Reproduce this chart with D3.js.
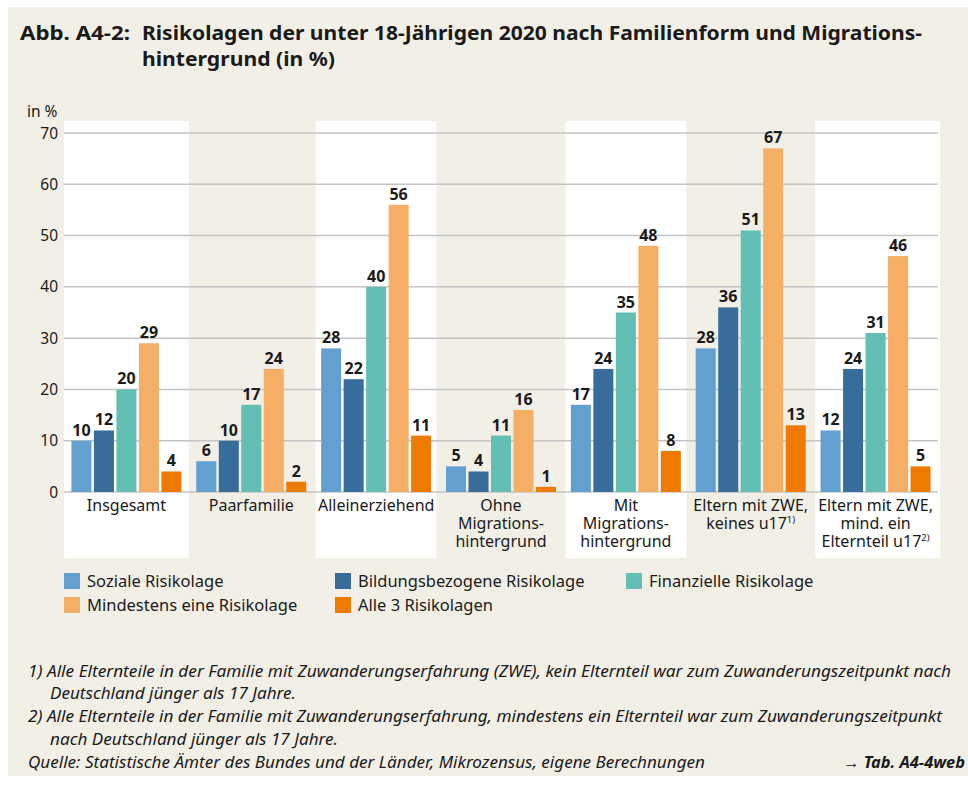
<!DOCTYPE html>
<html>
<head>
<meta charset="utf-8">
<script src="https://cdn.jsdelivr.net/npm/d3@7"></script>
<style>
  body { margin: 0; background: #fff; }
  svg { display: block; }
  text { font-family: "Noto Sans", "Open Sans", sans-serif; fill: #1a1a1a; }
</style>
</head>
<body>
<div id="chart"></div>
<script>
// Daten
const categories = [
    ['Insgesamt'],
    ['Paarfamilie'],
    ['Alleinerziehend'],
    ['Ohne', 'Migrations-', 'hintergrund'],
    ['Mit', 'Migrations-', 'hintergrund'],
    ['Eltern mit ZWE,', 'keines u17|1)'],
    ['Eltern mit ZWE,', 'mind. ein', 'Elternteil u17|2)']
];
const seriesNames = ['Soziale Risikolage', 'Bildungsbezogene Risikolage', 'Finanzielle Risikolage',
    'Mindestens eine Risikolage', 'Alle 3 Risikolagen'];
const seriesColors = ['#62a0cf', '#386c9b', '#63bfb4', '#f4ae66', '#ee7a02'];
const soziale      = [10, 6, 28, 5, 17, 28, 12];
const bildung      = [12, 10, 22, 4, 24, 36, 24];
const finanziell   = [20, 17, 40, 11, 35, 51, 31];
const mindestens   = [29, 24, 56, 16, 48, 67, 46];
const alleDrei     = [4, 2, 11, 1, 8, 13, 5];
const yTicks = [0, 10, 20, 30, 40, 50, 60, 70];

const values = [soziale, bildung, finanziell, mindestens, alleDrei];

const width = 968;
const height = 785;

const svg = d3.select('#chart')
    .append('svg')
    .attr('width', width)
    .attr('height', height);

// Hintergrund
svg.append('rect')
    .attr('x', 8).attr('y', 7)
    .attr('width', width - 8).attr('height', 769)
    .attr('fill', '#f2efe7');

// Titel
const title = svg.append('g').style('font-weight', 'bold').style('font-size', '20px');
title.append('text').attr('x', 20).attr('y', 39.5).attr('textLength', 110).attr('lengthAdjust', 'spacingAndGlyphs').text('Abb. A4-2:');
title.append('text').attr('x', 142).attr('y', 39.5).attr('textLength', 780).attr('lengthAdjust', 'spacingAndGlyphs')
    .text('Risikolagen der unter 18-Jährigen 2020 nach Familienform und Migrations-');
title.append('text').attr('x', 142).attr('y', 66).attr('textLength', 193).attr('lengthAdjust', 'spacingAndGlyphs')
    .text('hintergrund (in %)');

// Skalen
const x = d3.scaleBand()
    .domain(d3.range(categories.length))
    .range([64, 938]);

const xInner = d3.scaleBand()
    .domain(d3.range(seriesNames.length))
    .range([0, 110])
    .paddingInner(0.11);

const y = d3.scaleLinear()
    .domain([0, 70])
    .range([492, 133]);

// weiße Spalten
svg.append('g')
    .selectAll('rect')
    .data(d3.range(categories.length).filter(i => i % 2 === 0))
    .enter()
    .append('rect')
    .attr('x', i => x(i) + (i === 0 ? 0 : 2))
    .attr('width', i => x.bandwidth() - (i === 0 || i === categories.length - 1 ? 0 : 4))
    .attr('y', 121)
    .attr('height', 437)
    .attr('fill', '#ffffff');

// Gitterlinien
svg.append('g')
    .selectAll('line')
    .data(yTicks)
    .enter()
    .append('line')
    .attr('x1', 64).attr('x2', 938)
    .attr('y1', d => y(d)).attr('y2', d => y(d))
    .attr('stroke', '#c4c4c4')
    .attr('stroke-width', 1.5);

// y-Achse
svg.append('g')
    .selectAll('text')
    .data(yTicks)
    .enter()
    .append('text')
    .attr('x', 58)
    .attr('y', d => y(d) + 5.5)
    .attr('text-anchor', 'end')
    .style('font-size', '15.5px')
    .text(d => d);

svg.append('text')
    .attr('x', 27).attr('y', 117)
    .style('font-size', '15.5px')
    .text('in %');

// Balken
const groups = svg.append('g')
    .selectAll('g')
    .data(categories)
    .enter()
    .append('g')
    .attr('transform', (d, i) => `translate(${x(i) + (x.bandwidth() - 110) / 2},0)`);

groups.each(function(d, ci) {
    const g = d3.select(this);
    values.forEach((series, si) => {
        const v = series[ci];
        g.append('rect')
            .attr('x', xInner(si))
            .attr('width', xInner.bandwidth())
            .attr('y', y(v))
            .attr('height', y(0) - y(v))
            .attr('fill', seriesColors[si]);
        g.append('text')
            .attr('x', xInner(si) + xInner.bandwidth() / 2)
            .attr('y', y(v) - 5)
            .attr('text-anchor', 'middle')
            .style('font-size', '16px')
            .style('font-weight', 'bold')
            .text(v);
    });
});

// Kategorienbeschriftung
groups.each(function(lines) {
    const t = d3.select(this).append('text')
        .attr('text-anchor', 'middle')
        .style('font-size', '16px');
    lines.forEach((line, li) => {
        const parts = line.split('|');
        const ts = t.append('tspan')
            .attr('x', 55)
            .attr('y', 511 + li * 18);
        ts.append('tspan').text(parts[0]);
        if (parts[1]) {
            ts.append('tspan')
                .attr('dy', -6)
                .style('font-size', '9.5px')
                .text(parts[1]);
        }
    });
});

// Legende
const legendPos = [[64, 573], [335, 573], [626, 573], [64, 597], [335, 597]];
const legend = svg.append('g')
    .selectAll('g')
    .data(seriesNames)
    .enter()
    .append('g')
    .attr('transform', (d, i) => `translate(${legendPos[i][0]},${legendPos[i][1]})`);
legend.append('rect')
    .attr('width', 16).attr('height', 16)
    .attr('fill', (d, i) => seriesColors[i]);
legend.append('text')
    .attr('x', 23).attr('y', 14)
    .style('font-size', '16.5px')
    .text(d => d);

// Fußnoten
const notes = [
    { x: 28, y: 677, len: 923, t: '1) Alle Elternteile in der Familie mit Zuwanderungserfahrung (ZWE), kein Elternteil war zum Zuwanderungszeitpunkt nach' },
    { x: 50, y: 699, len: 246, t: 'Deutschland jünger als 17 Jahre.' },
    { x: 28, y: 722, len: 914, t: '2) Alle Elternteile in der Familie mit Zuwanderungserfahrung, mindestens ein Elternteil war zum Zuwanderungszeitpunkt' },
    { x: 50, y: 745, len: 288, t: 'nach Deutschland jünger als 17 Jahre.' },
    { x: 28, y: 768, len: 677, t: 'Quelle: Statistische Ämter des Bundes und der Länder, Mikrozensus, eigene Berechnungen' }
];
svg.append('g')
    .selectAll('text')
    .data(notes)
    .enter()
    .append('text')
    .attr('x', d => d.x)
    .attr('y', d => d.y)
    .attr('textLength', d => d.len)
    .attr('lengthAdjust', 'spacingAndGlyphs')
    .style('font-size', '15.5px')
    .style('font-style', 'italic')
    .text(d => d.t);

svg.append('text')
    .attr('x', 965).attr('y', 768)
    .attr('text-anchor', 'end')
    .attr('textLength', 122)
    .attr('lengthAdjust', 'spacingAndGlyphs')
    .style('font-size', '16.5px')
    .style('font-style', 'italic')
    .style('font-weight', 'bold')
    .text('→ Tab. A4-4web');
</script>
</body>
</html>
